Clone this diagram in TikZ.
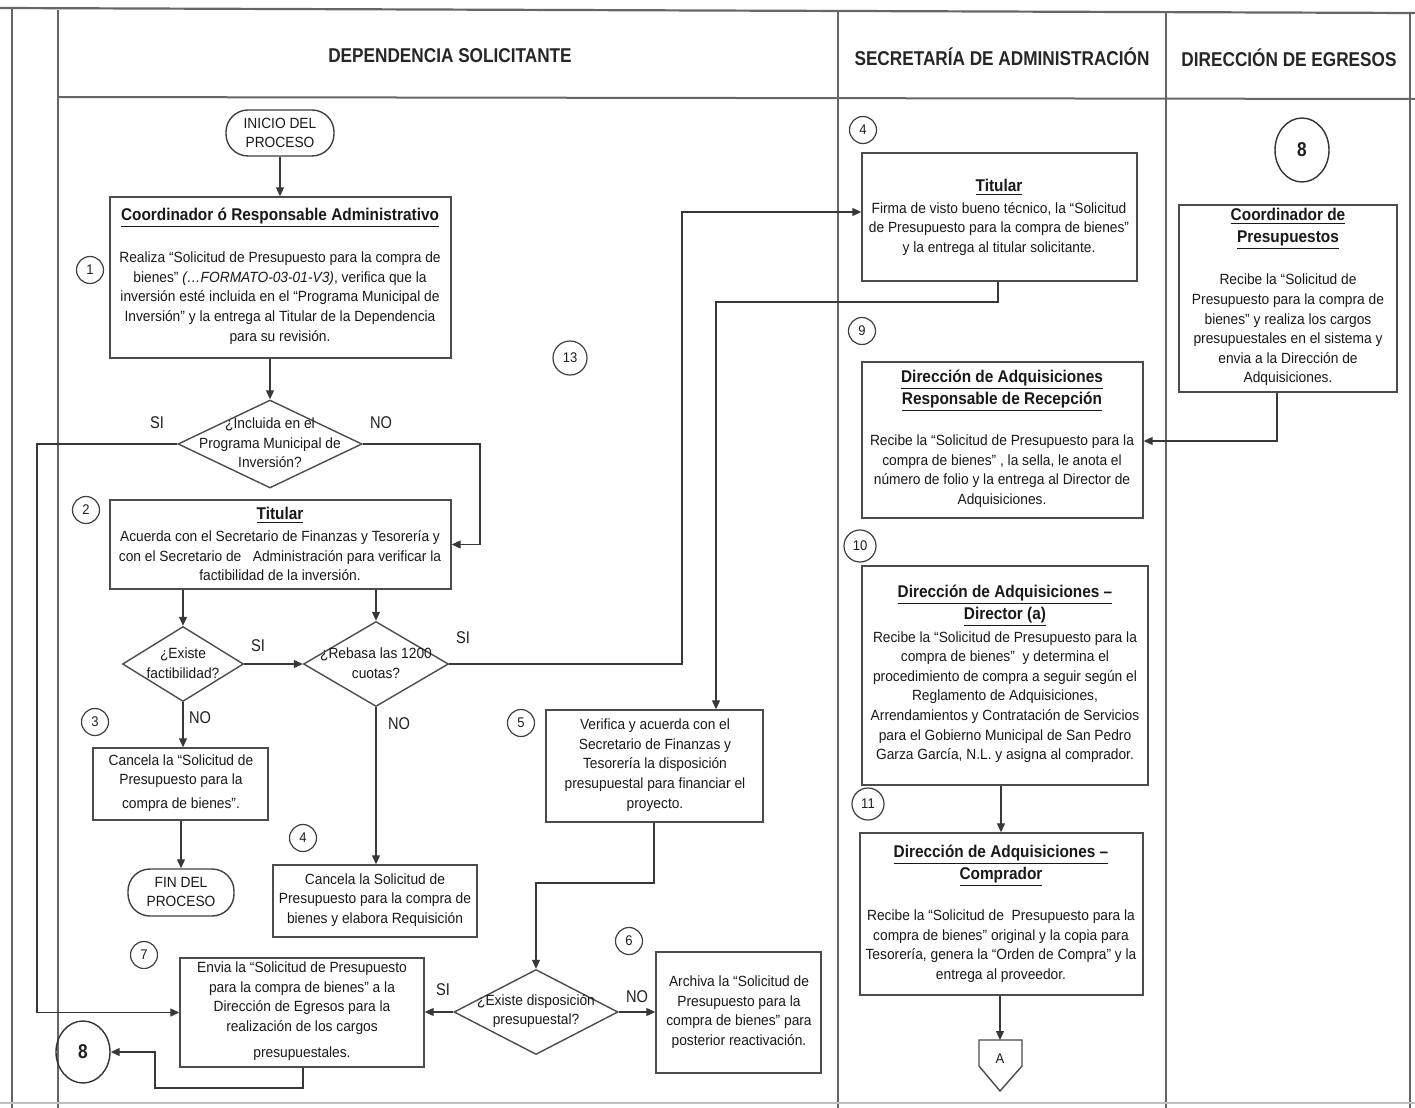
\documentclass[tikz,border=0pt]{standalone}
\usepackage{fontspec}
\setmainfont{Liberation Sans}[FakeStretch=0.93]
\newfontfamily\hdrfont{Liberation Sans}[FakeStretch=0.86]
\newfontfamily\ttlfont{Liberation Sans}[FakeStretch=0.905]
\usetikzlibrary{shapes.geometric,fit,arrows.meta}
\begin{document}
\begin{tikzpicture}[x=0.5pt,y=-0.5pt,
 ln/.style={draw=black!78, line width=0.6pt},
 arr/.style={ln, -{Triangle[length=4.5pt,width=4pt]}},
 boxr/.style={draw=black!70, line width=0.7pt, inner sep=0pt},
 txt/.style={text=black!90, font=\fontsize{7.4}{9.8}\selectfont, align=center, inner sep=0pt},
 ttl/.style={text=black!90, font=\ttlfont\bfseries\fontsize{8.5}{11}\selectfont, align=center, inner sep=0pt},
 num/.style={circle, draw=black!75, line width=0.6pt, minimum size=13.5pt, inner sep=0pt, text=black!88, font=\fontsize{7}{8}\selectfont},
 big/.style={ellipse, draw=black!80, line width=0.7pt, minimum width=27pt, minimum height=31pt, inner sep=0pt, text=black!88, font=\hdrfont\bfseries\fontsize{10}{12}\selectfont},
 dia/.style={diamond, draw=black!70, line width=0.7pt, inner sep=0pt},
 term/.style={draw=black!75, line width=0.7pt, rounded corners=11pt, inner sep=0pt},
 lbl/.style={font=\hdrfont\fontsize{8.5}{10}\selectfont, text=black!88, inner sep=0pt},
 hdr/.style={font=\hdrfont\bfseries\fontsize{10}{12}\selectfont, text=black!85, inner sep=0pt},
 frm/.style={draw=black!60, line width=0.8pt}
]
\fill[white] (0,0) rectangle (1415,1108);
\useasboundingbox (0,0) rectangle (1415,1108);

% ---------- frame ----------
\draw[frm, line width=1.1pt] (0,8) -- (1415,13);
\draw[frm] (12,9) -- (12,1108);
\draw[frm] (58,10) -- (58,1108);
\draw[frm, line width=1pt] (58,97) -- (1415,99);
\draw[frm] (838,11) -- (838,1108);
\draw[frm] (1166,12) -- (1166,1108);
\draw[frm] (1410,13) -- (1410,1108);
\draw[draw=black!25, line width=0.8pt] (0,1103) -- (1415,1103);

\node[hdr] (h1) at (450,56) {DEPENDENCIA SOLICITANTE};
\node[hdr] (h2) at (1002,57) {SECRETARÍA DE ADMINISTRACIÓN};
\node[hdr] (h3) at (1289,58) {DIRECCIÓN DE EGRESOS};

% ---------- Dependencia solicitante ----------
\node[term, fit={(226,110) (334,156)}] (start) {};
\node[txt] (startT) at (280,133) {INICIO DEL\\PROCESO};

\node[num] (n1) at (90,270) {1};
\node[boxr, fit={(110,197) (451,358)}] (b1) {};
\node[ttl] (b1t) at (280,218) {\underline{Coordinador ó Responsable Administrativo}};
\node[txt] (b1b) at (280,298) {Realiza “Solicitud de Presupuesto para la compra de\\ bienes” \textit{(…FORMATO-03-01-V3)}, verifica que la\\ inversión esté incluida en el “Programa Municipal de\\ Inversión” y la entrega al Titular de la Dependencia\\ para su revisión.};

\node[dia, minimum width=92pt, minimum height=44pt] (d1) at (270,444) {};
\node[txt] (d1t) at (270,443) {¿Incluida en el\\ Programa Municipal de\\ Inversión?};
\node[lbl] (si1) at (157,423) {SI};
\node[lbl] (no1) at (381,423) {NO};

\node[num] (n2) at (86,510) {2};
\node[boxr, fit={(110,500) (451,589)}] (b2) {};
\node[ttl] (b2t) at (280,515) {\underline{Titular}};
\node[txt] (b2b) at (280,556) {Acuerda con el Secretario de Finanzas y Tesorería y\\ con el Secretario de\ \ \ Administración para verificar la\\ factibilidad de la inversión.};

\node[dia, minimum width=60.5pt, minimum height=37.5pt] (d2) at (183,664) {};
\node[txt] (d2t) at (183,663) {¿Existe\\ factibilidad?};
\node[lbl] (si2) at (258,646) {SI};
\node[lbl] (no2) at (200,718) {NO};

\node[dia, minimum width=72.5pt, minimum height=42.5pt] (d3) at (376,664) {};
\node[txt] (d3t) at (376,663) {¿Rebasa las 1200\\ cuotas?};
\node[lbl] (si3) at (463,638) {SI};
\node[lbl] (no3) at (399,724) {NO};

\node[num] (n3) at (95,722) {3};
\node[boxr, fit={(93,748) (268,820)}] (b3) {};
\node[txt] (b3b) at (181,783) {Cancela la “Solicitud de\\ Presupuesto para la\\[2pt] compra de bienes”.};

\node[term, fit={(128,869) (234,916)}] (fin) {};
\node[txt] (finT) at (181,892) {FIN DEL\\PROCESO};

\node[num] (n4a) at (303,838) {4};
\node[boxr, fit={(273,865) (477,937)}] (b4) {};
\node[txt] (b4b) at (375,900) {Cancela la Solicitud de\\ Presupuesto para la compra de\\ bienes y elabora Requisición};

\node[num, minimum size=17pt] (n13) at (570,358) {13};

\node[num] (n5) at (521,723) {5};
\node[boxr, fit={(546,710) (763,822)}] (b5) {};
\node[txt] (b5b) at (655,765) {Verifica y acuerda con el\\ Secretario de Finanzas y\\ Tesorería la disposición\\ presupuestal para financiar el\\ proyecto.};

\node[dia, minimum width=82pt, minimum height=42.5pt] (d4) at (536,1012) {};
\node[txt] (d4t) at (536,1011) {¿Existe disposición\\ presupuestal?};
\node[lbl] (si4) at (443,990) {SI};
\node[lbl] (no4) at (637,997) {NO};

\node[num] (n6) at (629,941) {6};
\node[boxr, fit={(656,952) (821,1073)}] (b6) {};
\node[txt] (b6b) at (739,1012) {Archiva la “Solicitud de\\ Presupuesto para la\\ compra de bienes” para\\ posterior reactivación.};

\node[num] (n7) at (144,955) {7};
\node[boxr, fit={(180,958) (424,1067)}] (b7) {};
\node[txt] (b7b) at (302,1011) {Envia la “Solicitud de Presupuesto\\ para la compra de bienes” a la\\ Dirección de Egresos para la\\ realización de los cargos\\[3pt] presupuestales.};

\node[big] (e8L) at (83,1052) {8};

% ---------- Secretaría de Administración ----------
\node[num] (n4b) at (863,130) {4};
\node[boxr, fit={(862,153) (1137,281)}] (tit) {};
\node[ttl] (titt) at (999,187) {\underline{Titular}};
\node[txt] (titb) at (999,229) {Firma de visto bueno técnico, la “Solicitud\\ de Presupuesto para la compra de bienes”\\ y la entrega al titular solicitante.};

\node[num] (n9) at (862,331) {9};
\node[boxr, fit={(862,362) (1143,518)}] (b9) {};
\node[ttl] (b9t) at (1002,391) {\underline{Dirección de Adquisiciones}\\ \underline{Responsable de Recepción}};
\node[txt] (b9b) at (1002,471) {Recibe la “Solicitud de Presupuesto para la\\ compra de bienes” , la sella, le anota el\\ número de folio y la entrega al Director de\\ Adquisiciones.};

\node[num, minimum size=16pt] (n10) at (860,546) {10};
\node[boxr, fit={(862,566) (1148,785)}] (b10) {};
\node[ttl] (b10t) at (1005,606) {\underline{Dirección de Adquisiciones –}\\ \underline{Director (a)}};
\node[txt] (b10b) at (1005,697) {Recibe la “Solicitud de Presupuesto para la\\ compra de bienes”\ \ y determina el\\ procedimiento de compra a seguir según el\\ Reglamento de Adquisiciones,\\ Arrendamientos y Contratación de Servicios\\ para el Gobierno Municipal de San Pedro\\ Garza García, N.L. y asigna al comprador.};

\node[num, minimum size=16pt] (n11) at (868,804) {11};
\node[boxr, fit={(860,833) (1143,995)}] (b11) {};
\node[ttl] (b11t) at (1001,866) {\underline{Dirección de Adquisiciones –}\\ \underline{Comprador}};
\node[txt] (b11b) at (1001,946) {Recibe la “Solicitud de\ \ Presupuesto para la\\ compra de bienes” original y la copia para\\ Tesorería, genera la “Orden de Compra” y la\\ entrega al proveedor.};

\node[inner sep=0pt, font=\fontsize{7}{8}\selectfont, text=black!88] (A) at (1000,1059) {A};
\draw[boxr] (979,1040) -- (1022,1040) -- (1022,1066) -- (1000,1091) -- (979,1066) -- cycle;
\coordinate (Atop) at (1000,1040);

% ---------- Dirección de Egresos ----------
\node[big, minimum height=32pt] (e8R) at (1302,150) {8};
\node[boxr, fit={(1179,205) (1397,392)}] (b8) {};
\node[ttl] (b8t) at (1288,229) {\underline{Coordinador de}\\ \underline{Presupuestos}};
\node[txt] (b8b) at (1288,330) {Recibe la “Solicitud de\\ Presupuesto para la compra de\\ bienes” y realiza los cargos\\ presupuestales en el sistema y\\ envia a la Dirección de\\ Adquisiciones.};

% ---------- connectors ----------
\coordinate (cSI) at (37,444);
\coordinate (cNO) at (480,444);
\coordinate (cR) at (682,212);
\coordinate (cT1) at (998,302);
\coordinate (cT2) at (716,302);
\coordinate (cE) at (1277,441);
\coordinate (c51) at (654,883);
\coordinate (c52) at (536,883);
\coordinate (c71) at (303,1088);
\coordinate (c72) at (155,1088);

\draw[arr] (start.south -| 280,0) -- (b1.north -| 280,0);
\draw[arr] (d1.north |- b1.south) -- (d1.north);
\draw[arr] (d1.west) -- (cSI) |- (b7.west);
\draw[arr] (d1.east) -- (cNO) |- (b2.east);
\draw[arr] (b2.south -| d2.north) -- (d2.north);
\draw[arr] (b2.south -| d3.north) -- (d3.north);
\draw[arr] (d2.east) -- (d3.west);
\draw[arr] (d2.south) -- (d2.south |- b3.north);
\draw[arr] (b3.south -| 181,0) -- (fin.north -| 181,0);
\draw[arr] (d3.south) -- (d3.south |- b4.north);
\draw[arr] (d3.east) -| (cR) -- (cR -| tit.west);
\draw[arr] (tit.south -| cT1) -- (cT1) -- (cT2) -- (cT2 |- b5.north);
\draw[arr] (b8.south -| cE) -- (cE) -- (cE -| b9.east);
\draw[arr] (b10.south -| 1001,0) -- (b11.north -| 1001,0);
\draw[arr] (b11.south -| Atop) -- (Atop);
\draw[arr] (b5.south -| c51) -- (c51) -- (c52) -- (d4.north);
\draw[arr] (d4.west) -- (d4.west -| b7.east);
\draw[arr] (d4.east) -- (d4.east -| b6.west);
\draw[arr] (b7.south -| c71) -- (c71) -- (c72) |- (e8L.east);
\end{tikzpicture}
\end{document}
